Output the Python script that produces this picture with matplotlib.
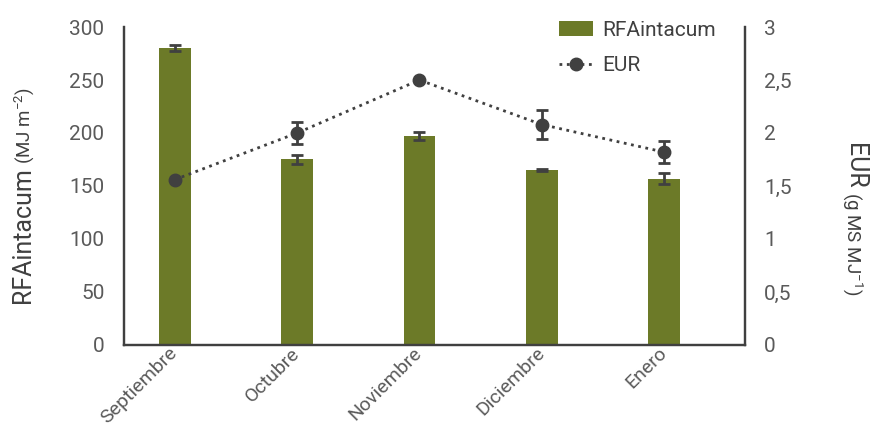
import numpy as np
import matplotlib as mpl
import matplotlib.pyplot as plt
from matplotlib.ticker import FixedLocator, FuncFormatter

mpl.rcParams.update({
    'font.family': ['Roboto', 'DejaVu Sans'],
    'mathtext.fontset': 'custom',
    'mathtext.rm': 'Roboto',
    'mathtext.it': 'Roboto',
    'text.color': '#404040',
    'xtick.color': '#404040',
    'ytick.color': '#404040',
})

# monthly data
months = ['Septiembre', 'Octubre', 'Noviembre', 'Diciembre', 'Enero']
rfa = [280, 175, 197, 165, 157]
rfa_err = [3, 4, 4, 1, 5]
eur = [1.56, 2.0, 2.5, 2.08, 1.82]
eur_err = [0.0, 0.1, 0.0, 0.14, 0.1]

BAR_C = '#6c7a28'
DARK = '#404040'
TXT = '#5a5a5a'

fig = plt.figure(figsize=(8.72, 4.29), dpi=100)
ax = fig.add_axes([0.142, 0.196, 0.712, 0.741])
ax2 = ax.twinx()

x = np.arange(len(months))
bars = ax.bar(x, rfa, width=0.26, color=BAR_C, label='RFAintacum', zorder=2)
ax.errorbar(x, rfa, yerr=rfa_err, fmt='none', ecolor=DARK,
            elinewidth=2, capsize=4, capthick=2, zorder=3)

line, = ax2.plot(x, eur, marker='o', color=DARK, ms=9, ls=':', lw=2,
                 label='EUR', zorder=4)
ax2.errorbar(x, eur, yerr=eur_err, fmt='none', ecolor=DARK,
             elinewidth=2, capsize=4, capthick=2, zorder=4)

ax.set_xlim(-0.417, 4.66)
ax.set_ylim(0, 300)
ax2.set_ylim(0, 3)

ax.set_yticks(np.arange(0, 301, 50))
ax2.set_yticks(np.arange(0, 3.01, 0.5))
fmt = FuncFormatter(lambda v, p: ('%g' % v).replace('.', ','))
ax2.yaxis.set_major_formatter(fmt)

# only the top of each value axis carries a tick mark
ax.yaxis.set_minor_locator(FixedLocator([300]))
ax2.yaxis.set_minor_locator(FixedLocator([3]))
ax.tick_params(axis='y', which='major', length=0, pad=14, labelsize=15)
ax.tick_params(axis='y', which='minor', length=9, width=1.6, color=DARK)
ax2.tick_params(axis='y', which='major', length=0, pad=14, labelsize=15)
ax2.tick_params(axis='y', which='minor', length=9, width=1.6, color=DARK)

ax.set_xticks(x)
ax.set_xticklabels(months, rotation=45, ha='right', va='center',
                   rotation_mode='anchor', fontsize=14)
ax.tick_params(axis='x', length=0, pad=4)

for lab in ax.get_yticklabels() + ax2.get_yticklabels() + ax.get_xticklabels():
    lab.set_color(TXT)

for a in (ax, ax2):
    a.spines['top'].set_visible(False)
    for s in ('left', 'right', 'bottom'):
        a.spines[s].set_color(DARK)
        a.spines[s].set_linewidth(1.6)

leg = fig.legend([bars, line], ['RFAintacum', 'EUR'], loc='upper left',
                 bbox_to_anchor=(0.620, 0.995), frameon=False,
                 prop={'size': 15},
                 labelspacing=0.78, handlelength=1.6, handletextpad=0.45)

# axis titles with a larger main word and a smaller unit part
fig.canvas.draw()
r = fig.canvas.get_renderer()
t1 = fig.text(0.026, 0.294, 'RFAintacum', rotation=90, fontsize=18,
              ha='center', va='bottom')
bb = t1.get_window_extent(r)
fig.text(0.028, bb.y1 / fig.bbox.height + 0.008, r'(MJ m$^{-2}$)',
         rotation=90, fontsize=13.5, ha='center', va='bottom')

t2 = fig.text(0.980, 1 - 143 / 429, 'EUR', rotation=270, fontsize=18,
              ha='center', va='top')
bb = t2.get_window_extent(r)
fig.text(0.978, bb.y0 / fig.bbox.height - 0.008, r'(g MS MJ$^{-1}$)',
         rotation=270, fontsize=13.5, ha='center', va='top')

fig.savefig('out.png', dpi=100)
